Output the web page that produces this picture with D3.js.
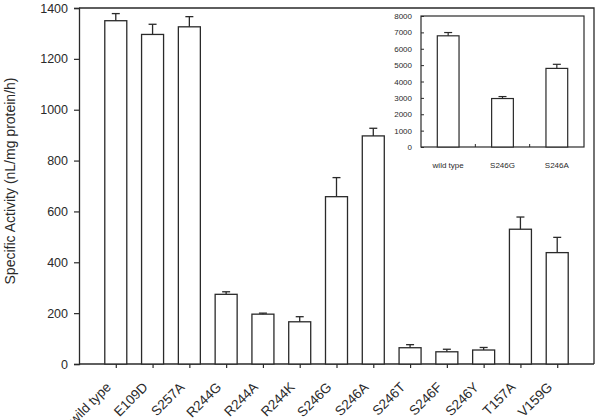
<!DOCTYPE html>
<html>
<head>
<meta charset="utf-8">
<script src="https://cdn.jsdelivr.net/npm/d3@7"></script>
<style>
  body { margin: 0; background: #fff; }
  svg { display: block; font-family: "Liberation Sans", Arial, sans-serif; }
</style>
</head>
<body>
<div id="chart"></div>
<script>
// main chart data
const mutants = ['wild type', 'E109D', 'S257A', 'R244G', 'R244A', 'R244K', 'S246G',
    'S246A', 'S246T', 'S246F', 'S246Y', 'T157A', 'V159G'];
const activity = [1350, 1296, 1326, 274, 196, 166, 658, 897, 64, 48, 55, 530, 438];
const activityErr = [28, 40, 40, 10, 4, 20, 75, 30, 12, 10, 10, 48, 60];
const yTicks = [0, 200, 400, 600, 800, 1000, 1200, 1400];

// inset data
const insetCats = ['wild type', 'S246G', 'S246A'];
const insetVals = [6790, 2960, 4800];
const insetErr = [200, 120, 250];
const insetTicks = [0, 1000, 2000, 3000, 4000, 5000, 6000, 7000, 8000];

const W = 601, H = 420;
const INK = '#2a2a2a';

const svg = d3.select('#chart').append('svg')
    .attr('width', W)
    .attr('height', H);

// ---- main plot ----
const M = { left: 79, right: 594, top: 8, bottom: 364 };

const x = d3.scaleLinear()
    .domain([0, mutants.length + 1])
    .range([M.left, M.right]);
const y = d3.scaleLinear()
    .domain([0, 1400])
    .range([M.bottom, M.top]);

const main = svg.append('g');
const barW = 22;

// frame (top + right)
main.append('path')
    .attr('d', `M${M.left},${M.top}H${M.right}V${M.bottom}`)
    .attr('fill', 'none')
    .attr('stroke', INK)
    .attr('stroke-width', 1.3);

const yAxis = main.append('g')
    .attr('transform', `translate(${M.left},0)`)
    .call(d3.axisLeft(y).tickValues(yTicks).tickSize(5).tickPadding(6).tickFormat(d3.format('d')));
yAxis.selectAll('text').attr('font-size', 12.5).attr('fill', INK);

const xAxis = main.append('g')
    .attr('transform', `translate(0,${M.bottom})`)
    .call(d3.axisBottom(x)
        .tickValues(d3.range(1, mutants.length + 1))
        .tickSize(4)
        .tickFormat(''));
xAxis.select('.domain').attr('d', `M${M.left},0H${M.right}`);

[yAxis, xAxis].forEach(a => {
    a.select('.domain').attr('stroke', INK).attr('stroke-width', 1.3);
    a.selectAll('line').attr('stroke', INK).attr('stroke-width', 1.2);
});

// x labels rotated
main.append('g')
    .selectAll('text')
    .data(mutants)
    .join('text')
    .attr('transform', (d, i) => `translate(${x(i + 1) - 4},${M.bottom + 24}) rotate(-45)`)
    .attr('text-anchor', 'end')
    .attr('font-size', 13.5)
    .attr('fill', INK)
    .text(d => d);

// bars
const bars = main.append('g');
bars.selectAll('rect')
    .data(activity)
    .join('rect')
    .attr('x', (d, i) => x(i + 1) - barW / 2)
    .attr('y', d => y(d))
    .attr('width', barW)
    .attr('height', d => y(0) - y(d))
    .attr('fill', '#fff')
    .attr('stroke', INK)
    .attr('stroke-width', 1.3);

// error bars (upper only)
const errs = main.append('g').attr('stroke', INK).attr('stroke-width', 1.3);
activity.forEach((v, i) => {
    const cx = x(i + 1);
    errs.append('line')
        .attr('x1', cx).attr('x2', cx)
        .attr('y1', y(v)).attr('y2', y(v + activityErr[i]));
    errs.append('line')
        .attr('x1', cx - 4).attr('x2', cx + 4)
        .attr('y1', y(v + activityErr[i])).attr('y2', y(v + activityErr[i]));
});

// y title
svg.append('text')
    .attr('transform', `translate(15,181) rotate(-90)`)
    .attr('text-anchor', 'middle')
    .attr('font-size', 14)
    .attr('fill', INK)
    .text('Specific Activity (nL/mg protein/h)');

// ---- inset ----
const I = { left: 421, right: 584, top: 16, bottom: 147 };

const ix = d3.scaleBand()
    .domain(insetCats)
    .range([I.left, I.right])
    .paddingInner(0.6)
    .paddingOuter(0.3);
const iy = d3.scaleLinear()
    .domain([0, 8000])
    .range([I.bottom, I.top]);

const inset = svg.append('g');

inset.append('rect')
    .attr('x', I.left).attr('y', I.top)
    .attr('width', I.right - I.left)
    .attr('height', I.bottom - I.top)
    .attr('fill', '#fff')
    .attr('stroke', INK)
    .attr('stroke-width', 1.2);

const iyAxis = inset.append('g')
    .attr('transform', `translate(${I.left},0)`)
    .call(d3.axisLeft(iy).tickValues(insetTicks).tickSize(-3).tickPadding(9).tickFormat(d3.format('d')));
iyAxis.select('.domain').remove();
iyAxis.selectAll('line').attr('stroke', INK);
iyAxis.selectAll('text').attr('font-size', 8).attr('fill', INK);

// inward ticks between categories on the bottom
const step = ix.step();
inset.append('g')
    .selectAll('line')
    .data(insetCats.slice(1))
    .join('line')
    .attr('x1', d => ix(d) - step * ix.paddingInner() / 2)
    .attr('x2', d => ix(d) - step * ix.paddingInner() / 2)
    .attr('y1', I.bottom)
    .attr('y2', I.bottom - 3)
    .attr('stroke', INK);

inset.append('g')
    .selectAll('rect')
    .data(insetVals)
    .join('rect')
    .attr('x', (d, i) => ix(insetCats[i]))
    .attr('y', d => iy(d))
    .attr('width', ix.bandwidth())
    .attr('height', d => iy(0) - iy(d))
    .attr('fill', '#fff')
    .attr('stroke', INK)
    .attr('stroke-width', 1.2);

const ierrs = inset.append('g').attr('stroke', INK).attr('stroke-width', 1.2);
insetVals.forEach((v, i) => {
    const cx = ix(insetCats[i]) + ix.bandwidth() / 2;
    ierrs.append('line')
        .attr('x1', cx).attr('x2', cx)
        .attr('y1', iy(v)).attr('y2', iy(v + insetErr[i]));
    ierrs.append('line')
        .attr('x1', cx - 4).attr('x2', cx + 4)
        .attr('y1', iy(v + insetErr[i])).attr('y2', iy(v + insetErr[i]));
});

inset.append('g')
    .selectAll('text')
    .data(insetCats)
    .join('text')
    .attr('x', d => ix(d) + ix.bandwidth() / 2)
    .attr('y', I.bottom + 21)
    .attr('text-anchor', 'middle')
    .attr('font-size', 8)
    .attr('fill', INK)
    .text(d => d);
</script>
</body>
</html>
